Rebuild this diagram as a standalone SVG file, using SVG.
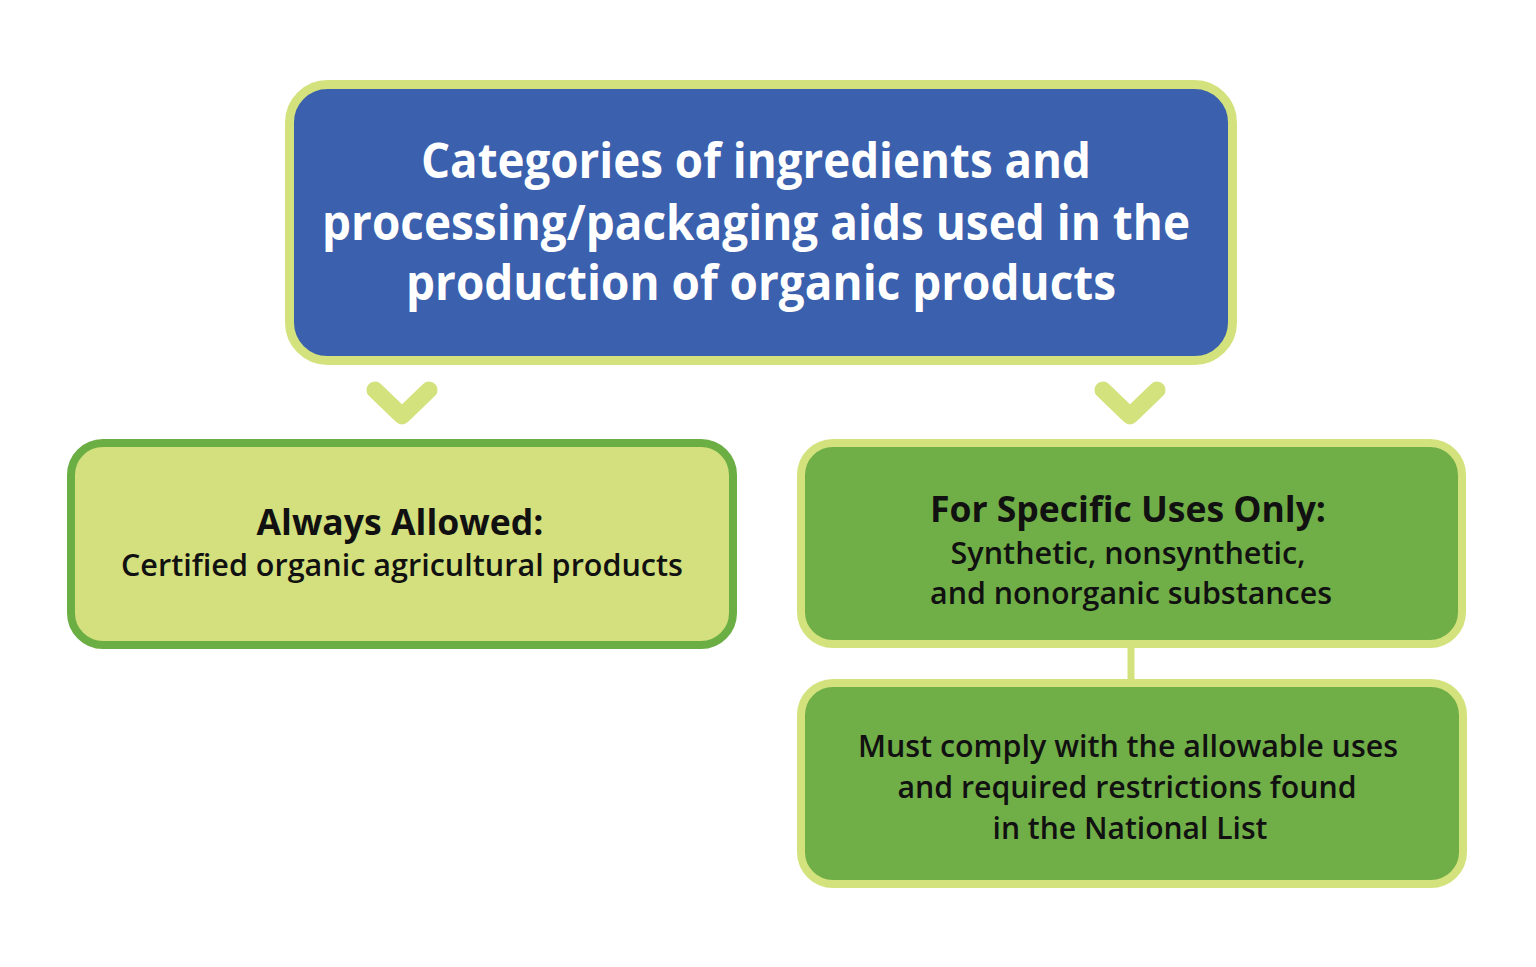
<svg xmlns="http://www.w3.org/2000/svg" width="1536" height="967" viewBox="0 0 1536 967">
<style>
.t{font-family:"Open Sans","Liberation Sans",sans-serif;text-anchor:middle}
.title{font-size:48px;font-weight:700;fill:#ffffff}
.head{font-size:36px;font-weight:700;fill:#111111}
.body{font-size:31px;font-weight:600;fill:#111111}
.chev{fill:none;stroke:#d3e27c;stroke-width:17;stroke-linecap:round;stroke-linejoin:round}
</style>
<rect width="1536" height="967" fill="#ffffff"/>
<g id="connectors">
<polyline class="chev" points="375,390 402,416 429,390"/>
<polyline class="chev" points="1103,390 1130,416 1157,390"/>
<line x1="1131" y1="646" x2="1131" y2="682" stroke="#d3e27c" stroke-width="7"/>
</g>
<g id="node-top">
<rect x="289.5" y="84.5" width="943" height="276" rx="38" fill="#3a60ae" stroke="#d3e27c" stroke-width="9"/>
<text class="t title" x="756" y="178" textLength="670" lengthAdjust="spacingAndGlyphs">Categories of ingredients and</text>
<text class="t title" x="756" y="240" textLength="868" lengthAdjust="spacingAndGlyphs">processing/packaging aids used in the</text>
<text class="t title" x="761" y="300" textLength="710" lengthAdjust="spacingAndGlyphs">production of organic products</text>
</g>
<g id="node-always">
<rect x="71" y="443" width="662" height="202" rx="32" fill="#d3e07d" stroke="#6bae44" stroke-width="8"/>
<text class="t head" x="400" y="535" textLength="287" lengthAdjust="spacingAndGlyphs">Always Allowed:</text>
<text class="t body" x="402" y="576" textLength="562" lengthAdjust="spacingAndGlyphs">Certified organic agricultural products</text>
</g>
<g id="node-specific">
<rect x="801" y="443" width="661" height="201" rx="32" fill="#70ae47" stroke="#d3e27c" stroke-width="8"/>
<text class="t head" x="1128" y="522" textLength="396" lengthAdjust="spacingAndGlyphs">For Specific Uses Only:</text>
<text class="t body" x="1128" y="564" textLength="355" lengthAdjust="spacingAndGlyphs">Synthetic, nonsynthetic,</text>
<text class="t body" x="1131" y="604" textLength="402" lengthAdjust="spacingAndGlyphs">and nonorganic substances</text>
</g>
<g id="node-comply">
<rect x="801" y="683" width="662" height="201" rx="32" fill="#70ae47" stroke="#d3e27c" stroke-width="8"/>
<text class="t body" x="1128" y="757" textLength="540" lengthAdjust="spacingAndGlyphs">Must comply with the allowable uses</text>
<text class="t body" x="1127" y="798" textLength="459" lengthAdjust="spacingAndGlyphs">and required restrictions found</text>
<text class="t body" x="1130" y="839" textLength="275" lengthAdjust="spacingAndGlyphs">in the National List</text>
</g>
</svg>
